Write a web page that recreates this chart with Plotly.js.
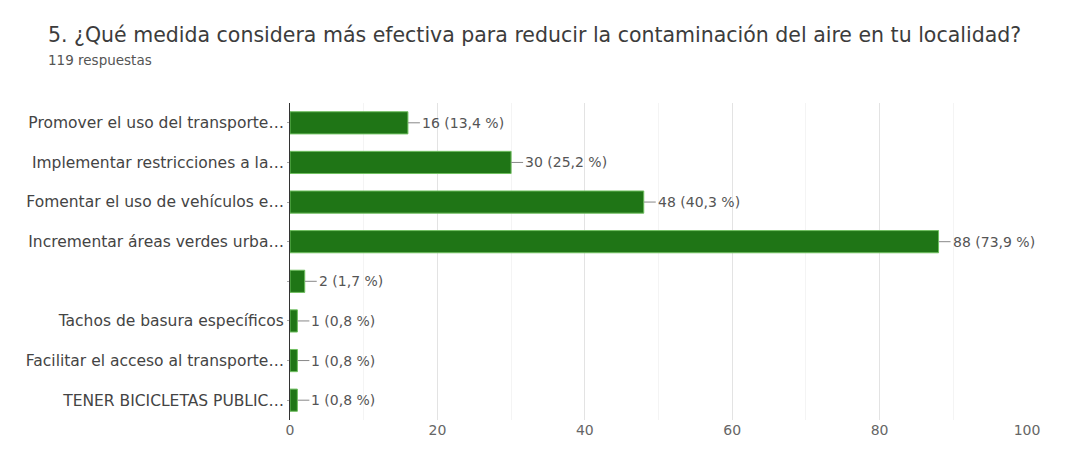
<!DOCTYPE html>
<html>
<head>
<meta charset="utf-8">
<script src="https://cdn.plot.ly/plotly-3.0.1.min.js"></script>
<style>html,body{margin:0;padding:0;background:#fff;}#chart{width:1077px;height:455px;}</style>
</head>
<body>
<div id="chart"></div>
<script>
const categories = [
  "Promover el uso del transporte…",
  "Implementar restricciones a la…",
  "Fomentar el uso de vehículos e…",
  "Incrementar áreas verdes urba…",
  "",
  "Tachos de basura específicos",
  "Facilitar el acceso al transporte…",
  "TENER BICICLETAS PUBLIC…"
];
const counts = [16, 30, 48, 88, 2, 1, 1, 1];
const percents = ["13,4", "25,2", "40,3", "73,9", "1,7", "0,8", "0,8", "0,8"];
const xTicks = [0, 20, 40, 60, 80, 100];
const titleText = "5. ¿Qué medida considera más efectiva para reducir la contaminación del aire en tu localidad?";
const subtitleText = "119 respuestas";

const FONT = "DejaVu Sans, Verdana, sans-serif";
const positions = categories.map((c, i) => i);
const labels = counts.map((c, i) => c + " (" + percents[i] + " %)");

const trace = {
  type: "bar",
  orientation: "h",
  x: counts,
  y: positions,
  width: 0.56,
  marker: {color: "#1f7516", line: {color: "#6fbf5f", width: 1}},
  hoverinfo: "none"
};

const annotations = counts.map((c, i) => ({
  x: c, y: positions[i], xref: "x", yref: "y",
  text: labels[i],
  showarrow: true, arrowhead: 0, arrowwidth: 1, arrowcolor: "#888",
  ax: 12, ay: 0, xanchor: "left", standoff: 0,
  font: {family: FONT, size: 14, color: "#555"}
}));
annotations.push({
  xref: "paper", yref: "paper", x: 0, y: 1, xshift: -244, yshift: 68,
  xanchor: "left", yanchor: "middle",
  text: titleText, showarrow: false,
  font: {family: FONT, size: 20.5, color: "#3c3c3c"}
});
annotations.push({
  xref: "paper", yref: "paper", x: 0, y: 1, xshift: -244, yshift: 43,
  xanchor: "left", yanchor: "middle",
  text: subtitleText, showarrow: false,
  font: {family: FONT, size: 13.5, color: "#555"}
});

const layout = {
  width: 1077, height: 455,
  margin: {l: 290, r: 50, t: 103, b: 35},
  paper_bgcolor: "#fff", plot_bgcolor: "#fff",
  showlegend: false,
  xaxis: {
    range: [0, 100], tickvals: xTicks, ticktext: xTicks.map(String),
    showgrid: true, gridcolor: "#e3e3e3", gridwidth: 1,
    minor: {tickvals: [10, 30, 50, 70, 90], showgrid: true, gridcolor: "#f4f4f4", gridwidth: 1},
    zeroline: false, showline: false, ticks: "",
    tickfont: {family: FONT, size: 14, color: "#666"},
    fixedrange: true
  },
  yaxis: {
    range: [7.5, -0.5], tickvals: positions, ticktext: categories,
    showgrid: false, zeroline: false,
    showline: true, linecolor: "#333", linewidth: 1,
    ticks: "outside", ticklen: 2, tickcolor: "#aaa",
    tickfont: {family: FONT, size: 15.5, color: "#444"},
    fixedrange: true
  },
  annotations: annotations
};

Plotly.newPlot("chart", [trace], layout, {displayModeBar: false, staticPlot: true});
</script>
</body>
</html>
